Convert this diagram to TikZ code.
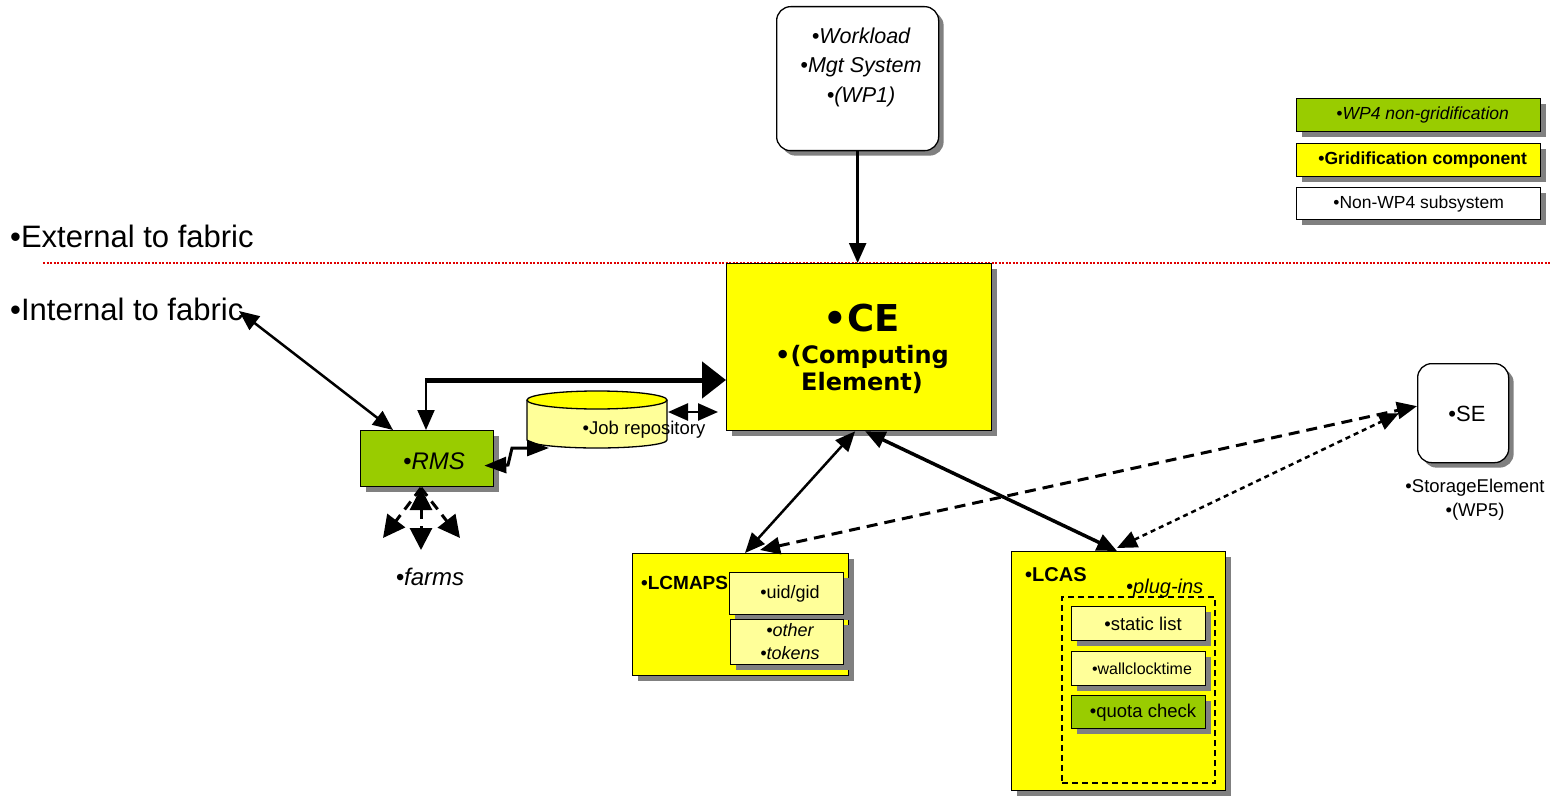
\documentclass[tikz,border=0pt]{standalone}
\usepackage{fontspec}
\setmainfont{Liberation Sans}
\newfontfamily\cefont{DejaVu Sans}
\usetikzlibrary{arrows.meta,shadows}
\definecolor{wpgreen}{HTML}{99CC00}
\definecolor{gridyellow}{HTML}{FFFF00}
\definecolor{lightyel}{HTML}{FFFF99}
\definecolor{shadowgray}{HTML}{808080}
\definecolor{borderred}{HTML}{E00000}
\newcommand{\setfs}[2]{\fontsize{#1}{#2}\selectfont}
\begin{document}
\begin{tikzpicture}[x=1pt,y=-1pt,
  box/.style={draw=black, line width=1.3pt, anchor=north west, inner sep=0pt,
    drop shadow={shadow xshift=5pt, shadow yshift=-5pt, fill=shadowgray, opacity=1}},
  rbox/.style={box, rounded corners=14pt},
  txt/.style={inner sep=0pt, align=center},
  tipS/.tip={Triangle[length=20pt,width=17pt]},
  tipB/.tip={Triangle[length=24pt,width=36pt]},
  tipM/.tip={Triangle[length=22pt,width=22pt]},
  conn/.style={line width=2.5pt, tipS-tipS},
  oneway/.style={line width=2.5pt, -tipS},
  dashconn/.style={line width=3pt, dash pattern=on 11pt off 7pt, tipS-tipS},
  dotconn/.style={line width=2.5pt, dash pattern=on 5pt off 4pt, tipS-tipS},
  farm/.style={line width=3pt, dash pattern=on 10pt off 7pt, -tipM},
]
\useasboundingbox (0,0) rectangle (1556,797);

% fabric boundary
\node[txt, anchor=base west, font=\setfs{31}{32}] (ext) at (10,247) {•External to fabric};
\node[txt, anchor=base west, font=\setfs{31}{32}] (int) at (10,320) {•Internal to fabric};
\draw[borderred, line width=1.2pt, dash pattern=on 2pt off 1.5pt] (43,263) -- (1550,263);

% legend
\node[box, fill=wpgreen, minimum width=244pt, minimum height=33pt] (lg1) at (1296,98) {};
\node[txt, font=\setfs{17.5}{20}\itshape] (lg1t) at ([xshift=4pt]lg1.center) {•WP4 non-gridification};
\node[box, fill=gridyellow, minimum width=244pt, minimum height=33pt] (lg2) at (1296,143) {};
\node[txt, font=\setfs{17.5}{20}\bfseries] (lg2t) at ([xshift=4pt]lg2.center) {•Gridification component};
\node[box, fill=white, minimum width=244pt, minimum height=32pt] (lg3) at (1296,187) {};
\node[txt, font=\setfs{17.5}{20}] (lg3t) at (lg3.center) {•Non-WP4 subsystem};

% workload
\node[rbox, fill=white, minimum width=162pt, minimum height=144pt] (wl) at (776,6) {};
\node[txt, font=\setfs{21.5}{29.5}\itshape] (wlt) at (861,67) {•Workload\\•Mgt System\\•(WP1)};

% CE
\node[box, fill=gridyellow, minimum width=265pt, minimum height=167pt] (ce) at (726,263) {};
\node[txt, anchor=base, font=\setfs{37}{38}\cefont\bfseries] (cet) at (862,331) {•CE};
\node[txt, anchor=base, font=\setfs{24}{27}\cefont\bfseries] (cet2) at (862,390) {•(Computing\\Element)};

% RMS
\node[box, fill=wpgreen, minimum width=133pt, minimum height=56pt] (rms) at (360,430) {};
\node[txt, anchor=base, font=\setfs{24}{26}\itshape] (rmst) at (434,469) {•RMS};

% job repository
\fill[lightyel] (527,400) -- (527,440) arc (180:0:70 and 8) -- (667,400) -- cycle;
\draw[line width=1.3pt] (527,400) -- (527,440) arc (180:0:70 and 8) -- (667,400);
\draw[line width=1.3pt, fill=gridyellow] (597,400) ellipse (70 and 9);
\node[txt, anchor=base, font=\setfs{18.5}{20}] (jr) at (644,434) {•Job repository};
\coordinate (jrE) at (668,412);
\coordinate (jrSW) at (549,448);

% farms
\node[txt, anchor=base, font=\setfs{24}{26}\itshape] (farms) at (430,585) {•farms};
\coordinate (rmsS) at (421,488);

% LCMAPS
\node[box, fill=gridyellow, minimum width=216pt, minimum height=122pt] (lcmaps) at (632,553) {};
\node[txt, anchor=base west, font=\setfs{19}{20}\bfseries] (lcmapst) at (641,589) {•LCMAPS};
\node[box, fill=lightyel, minimum width=114pt, minimum height=42pt] (uid) at (729,572) {};
\node[txt, font=\setfs{18}{20}] (uidt) at (790,594) {•uid/gid};
\node[box, fill=lightyel, minimum width=113pt, minimum height=45pt] (oth) at (730,619) {};
\node[txt, font=\setfs{18}{23}\itshape] (otht) at (790,642) {•other\\•tokens};

% LCAS
\node[box, fill=gridyellow, minimum width=214pt, minimum height=239pt] (lcas) at (1011,551) {};
\node[txt, anchor=base west, font=\setfs{20}{22}\bfseries] (lcast) at (1025,581) {•LCAS};
\node[txt, anchor=base west, font=\setfs{20}{22}\itshape] (plugt) at (1126,593) {•plug-ins};
\node[draw, line width=1.5pt, dash pattern=on 6pt off 4pt, anchor=north west, inner sep=0pt,
  minimum width=153pt, minimum height=186pt] (plug) at (1061,596) {};
\node[box, fill=lightyel, minimum width=134pt, minimum height=34pt] (stat) at (1071,606) {};
\node[txt, font=\setfs{18.5}{20}] (statt) at (1143,624) {•static list};
\node[box, fill=lightyel, minimum width=134pt, minimum height=34pt] (wall) at (1071,651) {};
\node[txt, font=\setfs{16}{18}] (wallt) at (1142,669) {•wallclocktime};
\node[box, fill=wpgreen, minimum width=134pt, minimum height=33pt] (quota) at (1071,695) {};
\node[txt, font=\setfs{18.5}{20}] (quotat) at (1143,713) {•quota check};

% SE
\node[rbox, fill=white, minimum width=91pt, minimum height=99pt] (se) at (1417,363) {};
\node[txt, font=\setfs{22}{24}] (set) at (1467,414) {•SE};
\node[txt, font=\setfs{18.5}{24}] (sel) at (1475,500) {•StorageElement\\•(WP5)};

% connectors
\draw[oneway] (wl.south) -- (wl.south |- ce.north);
\coordinate (ifab) at (239,311);
\draw[conn] (ifab) -- ([xshift=33pt]rms.north west);
\coordinate (corner) at (426,380);
\draw[line width=5pt, -tipB] ([xshift=-1pt]corner) -- (corner -| ce.west);
\draw[line width=2pt, -tipS] (corner) -- (corner |- rms.north);
\draw[conn] (jrE) -- ([xshift=-8pt]jrE -| ce.west);
\draw[line width=3pt, {Triangle[length=22pt,width=16pt]}-{Triangle[length=22pt,width=16pt]}]
  (jrSW) -- (512,448) -- (508,465) -- ([xshift=-10pt,yshift=-7pt]rms.east);
\draw[farm, tipM-tipM] (rmsS) -- (421,550);
\draw[farm] (rmsS) -- (383,538);
\draw[farm] (rmsS) -- (460,538);
\draw[conn] ([xshift=-4pt]ce.south) -- ([xshift=113pt]lcmaps.north west);
\draw[line width=3.5pt, tipS-tipS] ([xshift=6pt]ce.south) -- ([xshift=106pt]lcas.north west);
\draw[dashconn] ([xshift=128pt,yshift=3pt]lcmaps.north west) -- ([yshift=7pt]se.west);
\draw[dotconn] ([xshift=106pt,yshift=3pt]lcas.north west) -- ([xshift=-18pt]se.west);
\end{tikzpicture}
\end{document}
